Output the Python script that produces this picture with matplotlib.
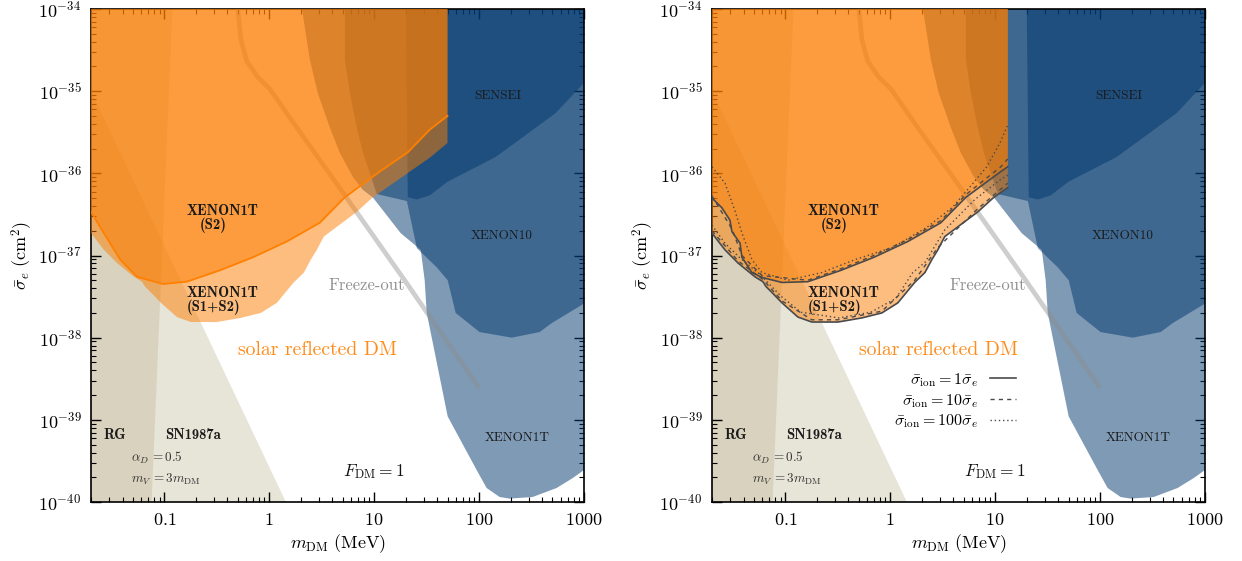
#!/usr/bin/env python3
"""
Solar reflected DM - electron scattering bounds, two panels
"""
import numpy as np
import matplotlib
matplotlib.use("Agg")
import matplotlib.pyplot as plt
from matplotlib import ticker
from matplotlib.lines import Line2D

plt.rcParams.update({
    "font.family": "serif",
    "font.serif": ["cmr10"],
    "mathtext.fontset": "cm",
    "axes.unicode_minus": False,
    "axes.formatter.use_mathtext": True,
})

# ---------------------------------------------------------------------------
# Data  (mass in MeV, cross section in cm^2)
# ---------------------------------------------------------------------------

XLIM = (0.02, 1000.0)
YLIM = (1e-40, 1e-34)
x_ticks = [0.1, 1, 10, 100, 1000]
x_tick_labels = ["0.1", "1", "10", "100", "1000"]

# astrophysical bounds
rg_mass = [0.129, 0.070]          # right edge of red-giant band (top, bottom)
sn_mass = [0.02, 1.44]            # SN1987a edge
sn_sigma = [1e-35, 1e-40]

# halo DM direct detection
x1t_mass = [2.05, 2.44, 2.90, 3.78, 4.70, 6.25, 7.78, 9.7, 17.9, 27.8, 30.3, 31.7,
            50.2, 94.8, 118, 157, 195, 324, 548, 778, 1000]
x1t_sigma = [1e-34, 2.4e-35, 9.5e-36, 3.6e-36, 1.78e-36, 9.1e-37, 6.3e-37, 5.1e-37,
             1.87e-37, 1.17e-37, 5.0e-38, 2.0e-38, 1.1e-39, 2.45e-40, 1.48e-40,
             1.15e-40, 1.1e-40, 1.15e-40, 1.48e-40, 1.95e-40, 2.45e-40]

x10_mass = [5.25, 5.25, 5.86, 6.82, 7.8, 9.1, 10.6, 20.5, 25.5, 39.4, 50.2, 59.8,
            101, 205, 378, 491, 1000]
x10_sigma = [1e-34, 2.4e-35, 9.5e-36, 3.6e-36, 1.78e-36, 1.0e-36, 5.6e-37, 4.6e-37,
             1.23e-37, 7.2e-38, 5.0e-38, 2.0e-38, 1.17e-38, 1.0e-38, 1.17e-38,
             1.5e-38, 2.6e-38]

sensei_mass = [20, 20.9, 25.5, 33.9, 50, 144, 536, 1000]
sensei_sigma = [1e-34, 5.1e-37, 4.8e-37, 5.4e-37, 7.9e-37, 1.58e-36, 5.4e-36, 1.26e-35]

# thermal freeze-out
fo_mass = [0.502, 0.537, 0.612, 0.778, 1.01, 1.83, 3.78, 18.7, 100]
fo_sigma = [1e-34, 4.2e-35, 2.3e-35, 1.48e-35, 1.07e-35, 3.6e-36, 9.8e-37,
            5.4e-38, 2.45e-39]

# solar reflection, XENON1T S2-only, smooth curve of the left panel
s2_line_mass = [0.020, 0.026, 0.038, 0.055, 0.097, 0.164, 0.339, 0.698, 1.47, 3.03,
                5.25, 11.3, 20.9, 33.9, 50.0]
s2_line_sigma = [3.4e-37, 1.95e-37, 8.9e-38, 5.5e-38, 4.5e-38, 4.8e-38, 6.6e-38, 9.5e-38,
                 1.48e-37, 2.5e-37, 5.1e-37, 1.05e-36, 1.8e-36, 3.4e-36, 5.0e-36]

# solar reflection, XENON1T S2-only (sigma_ion = sigma_e), right panel
s2_mass = [0.020, 0.0249, 0.0296, 0.031, 0.037, 0.0386, 0.048, 0.060, 0.093, 0.164,
           0.339, 0.698, 1.47, 3.03, 5.25, 11.3, 20.9, 33.9, 50.0]
s2_sigma = [5.0e-37, 3.8e-37, 2.7e-37, 1.95e-37, 1.41e-37, 9.5e-38, 6.2e-38, 5.4e-38,
            4.7e-38, 4.8e-38, 6.6e-38, 9.5e-38, 1.48e-37, 2.5e-37, 5.1e-37, 1.05e-36,
            1.8e-36, 3.4e-36, 5.0e-36]

# solar reflection, XENON1T S1+S2 (sigma_ion = sigma_e)
s12_mass = [0.020, 0.0266, 0.0354, 0.0514, 0.0612, 0.0653, 0.0745, 0.093, 0.132, 0.179,
            0.317, 0.537, 0.832, 1.18, 1.71, 2.14, 2.49, 2.84, 3.31, 6.82, 9.7, 33.9, 50.0]
s12_sigma = [1.87e-37, 1.17e-37, 8.1e-38, 5.5e-38, 4.8e-38, 4.2e-38, 3.55e-38, 2.65e-38,
             1.78e-38, 1.55e-38, 1.55e-38, 1.74e-38, 2.0e-38, 2.65e-38, 4.7e-38, 6.2e-38,
             8.9e-38, 1.17e-37, 1.70e-37, 3.39e-37, 5.1e-37, 1.55e-36, 2.34e-36]

# right panel: sigma_ion = 10 sigma_e and 100 sigma_e
s2_dash_mass = [0.02, 0.031, 0.0386, 0.060, 0.164, 0.339, 0.698, 1.47, 3.03, 5.25, 11.3, 13.2]
s2_dash_sigma = [5.3e-37, 2.1e-37, 1.0e-37, 5.7e-38, 5.0e-38, 6.9e-38, 1.0e-37, 1.56e-37,
                 2.65e-37, 5.5e-37, 1.2e-36, 1.5e-36]
s2_dot_mass = [0.02, 0.0266, 0.0331, 0.0386, 0.0481, 0.0598, 0.106, 0.223, 0.460, 1.06,
               2.23, 3.95, 5.73, 8.3, 11.1, 13.2]
s2_dot_sigma = [1.2e-36, 7.6e-37, 3.5e-37, 1.87e-37, 8.9e-38, 6.2e-38, 5.0e-38, 6.2e-38,
                8.9e-38, 1.26e-37, 2.2e-37, 3.9e-37, 6.8e-37, 1.2e-36, 2.34e-36, 3.9e-36]
s12_dash_mass = [0.02, 0.0354, 0.0612, 0.093, 0.179, 0.317, 0.832, 1.71, 2.84, 6.82, 13.2]
s12_dash_sigma = [2.0e-37, 8.6e-38, 5.1e-38, 2.8e-38, 1.65e-38, 1.65e-38, 2.1e-38, 5.0e-38,
                  1.25e-37, 3.7e-37, 7.6e-37]
s12_dot_mass = [0.02, 0.0266, 0.0371, 0.058, 0.0908, 0.141, 0.324, 0.653, 1.13, 1.64,
                2.15, 3.3, 6.4, 11.1, 13.2]
s12_dot_sigma = [2.34e-37, 1.41e-37, 9.3e-38, 5.8e-38, 3.2e-38, 2.04e-38, 1.74e-38,
                 2.04e-38, 3.0e-38, 6.2e-38, 8.3e-38, 2.04e-37, 4.8e-37, 8.3e-37, 9.5e-37]

M_CUT = [50.0, 13.2]              # upper mass of the solar-reflection region per panel

legend_labels = [r"$\bar{\sigma}_{\rm ion} = 1\bar{\sigma}_e$",
                 r"$\bar{\sigma}_{\rm ion} = 10\bar{\sigma}_e$",
                 r"$\bar{\sigma}_{\rm ion} = 100\bar{\sigma}_e$"]

# ---------------------------------------------------------------------------
# Style
# ---------------------------------------------------------------------------

ORANGE = "#fd7d00"
ORANGE_LINE = "#ff8000"
BLUE = "#00376d"
BEIGE = "#bdb290"
GREY_LINE = "#4a4a4a"
TOP = 1e-33


def clip_curve(mass, sigma, m_cut):
    mass = np.asarray(mass)
    sigma = np.asarray(sigma)
    keep = mass < m_cut
    s_end = 10 ** np.interp(np.log10(m_cut), np.log10(mass), np.log10(sigma))
    return np.append(mass[keep], m_cut), np.append(sigma[keep], s_end)


def fill_above(ax, mass, sigma, m_cut, **kw):
    m, s = clip_curve(mass, sigma, m_cut)
    ax.fill(np.r_[m, m_cut, m[0]], np.r_[s, TOP, TOP], lw=0, **kw)


def fill_right(ax, mass, sigma, **kw):
    ax.fill(np.r_[mass, 3000, 3000, mass[0]], np.r_[sigma, sigma[-1], TOP, TOP], lw=0, **kw)


def style_axes(ax):
    ax.set_xscale("log")
    ax.set_yscale("log")
    ax.set_xlim(*XLIM)
    ax.set_ylim(*YLIM)
    ax.set_xticks(x_ticks)
    ax.set_xticklabels([f"${t}$" for t in x_tick_labels])
    ax.set_yticks([10.0 ** e for e in range(-40, -33)])
    ax.yaxis.set_major_formatter(ticker.LogFormatterMathtext())
    ax.xaxis.set_minor_locator(ticker.LogLocator(base=10, subs=np.arange(2, 10), numticks=30))
    ax.yaxis.set_minor_locator(ticker.LogLocator(base=10, subs=np.arange(2, 10), numticks=30))
    ax.xaxis.set_minor_formatter(ticker.NullFormatter())
    ax.yaxis.set_minor_formatter(ticker.NullFormatter())
    ax.tick_params(which="both", direction="in", top=True, right=True)
    ax.tick_params(which="major", length=7, width=1.0, labelsize=13, pad=7)
    ax.tick_params(which="minor", length=3.5, width=0.8)
    for sp in ax.spines.values():
        sp.set_linewidth(1.2)
    ax.set_xlabel(r"$m_{\rm DM}\ (\mathrm{MeV})$", fontsize=13, labelpad=3)
    ax.set_ylabel(r"$\bar{\sigma}_e\ (\mathrm{cm}^2)$", fontsize=13, labelpad=2)


def draw_panel(ax, m_cut, right):
    # astrophysics
    ax.fill([XLIM[0] / 2, rg_mass[0], rg_mass[1], XLIM[0] / 2], [TOP, TOP, 1e-41, 1e-41],
            color=BEIGE, alpha=0.35, lw=0, zorder=1)
    ax.fill([XLIM[0] / 2, sn_mass[0], sn_mass[1], XLIM[0] / 2],
            [sn_sigma[0], sn_sigma[0], sn_sigma[1], 1e-41],
            color=BEIGE, alpha=0.35, lw=0, zorder=1)

    # halo constraints
    for mass, sigma in ((x1t_mass, x1t_sigma), (x10_mass, x10_sigma),
                        (sensei_mass, sensei_sigma)):
        fill_right(ax, mass, sigma, color=BLUE, alpha=0.5, zorder=2)

    ax.plot(fo_mass, fo_sigma, color="#8c8c8c", alpha=0.42, lw=3.4,
            solid_capstyle="butt", zorder=3)

    # solar reflection
    fill_above(ax, s12_mass, s12_sigma, m_cut, color=ORANGE, alpha=0.5, zorder=4)

    if right:
        fill_above(ax, s2_mass, s2_sigma, m_cut, color=ORANGE, alpha=0.5, zorder=4)
        ax.plot(*clip_curve(s2_mass, s2_sigma, m_cut), color=GREY_LINE, lw=1.2, zorder=5)
        ax.plot(*clip_curve(s12_mass, s12_sigma, m_cut), color=GREY_LINE, lw=1.2, zorder=5)
        for mass, sigma in ((s2_dash_mass, s2_dash_sigma), (s12_dash_mass, s12_dash_sigma)):
            ax.plot(mass, sigma, color=GREY_LINE, lw=1.0, ls=(0, (3, 3)), zorder=5)
        for mass, sigma in ((s2_dot_mass, s2_dot_sigma), (s12_dot_mass, s12_dot_sigma)):
            ax.plot(mass, sigma, color=GREY_LINE, lw=1.0, ls=(0, (1, 2)), zorder=5)
        handles = [Line2D([], [], color=GREY_LINE, lw=1.2),
                   Line2D([], [], color=GREY_LINE, lw=1.0, ls=(0, (3, 3))),
                   Line2D([], [], color=GREY_LINE, lw=1.0, ls=(0, (1, 2)))]
        ax.legend(handles, legend_labels, loc="upper right", bbox_to_anchor=(0.645, 0.295),
                  markerfirst=False, frameon=False, fontsize=11.5, handlelength=1.6,
                  handletextpad=0.7, labelspacing=0.2, borderpad=0.4)
    else:
        fill_above(ax, s2_line_mass, s2_line_sigma, m_cut, color=ORANGE, alpha=0.5, zorder=4)
        ax.plot(*clip_curve(s2_line_mass, s2_line_sigma, m_cut), color=ORANGE_LINE,
                lw=1.3, zorder=5)

    # labels
    bold = dict(family="cmb10", fontsize=10.5, color="#1a1a1a", zorder=6)
    reg = dict(family="cmr10", fontsize=9.5, color="#1a1a1a", zorder=6)
    ax.text(150, 8.7e-36, "SENSEI", ha="center", va="center", **reg)
    ax.text(164, 1.74e-37, "XENON10", ha="center", va="center", **reg)
    ax.text(233, 6.0e-40, "XENON1T", ha="center", va="center", **reg)
    ax.text(0.164, 3.47e-37, "XENON1T", ha="left", va="center", **bold)
    ax.text(0.218, 2.34e-37, "(S2)", ha="left", va="center", **bold)
    ax.text(0.164, 3.47e-38, "XENON1T", ha="left", va="center", **bold)
    ax.text(0.164, 2.34e-38, "(S1+S2)", ha="left", va="center", **bold)
    ax.text(0.034, 6.6e-40, "RG", ha="center", va="center", **bold)
    ax.text(0.186, 6.5e-40, "SN1987a", ha="center", va="center", **bold)
    ax.text(8.5, 4.37e-38, "Freeze-out", ha="center", va="center", family="cmr10",
            fontsize=12, color="#8f8f8f", zorder=6)
    ax.text(2.9, 7.1e-39, "solar reflected DM", ha="center", va="center", family="cmr10",
            fontsize=14.2, color="#ff8c1a", zorder=6)
    ax.text(0.048, 3.4e-40, r"$\alpha_D\,=0.5$", ha="left", va="center", fontsize=9.5,
            color="#333333", zorder=6)
    ax.text(0.048, 1.9e-40, r"$m_V\,=3m_{\rm DM}$", ha="left", va="center", fontsize=9.5,
            color="#333333", zorder=6)
    ax.text(9.9, 2.34e-40, r"$F_{\rm DM}=1$", ha="center", va="center", fontsize=12.5,
            color="#111111", zorder=6)


def main():
    fig = plt.figure(figsize=(12.42, 5.61), dpi=100)
    axes = [fig.add_axes([91 / 1242, 59 / 561, 493 / 1242, 493 / 561]),
            fig.add_axes([712 / 1242, 59 / 561, 493 / 1242, 493 / 561])]
    for i, ax in enumerate(axes):
        draw_panel(ax, M_CUT[i], right=(i == 1))
        style_axes(ax)
    fig.savefig("out.png", dpi=100)


if __name__ == "__main__":
    main()
